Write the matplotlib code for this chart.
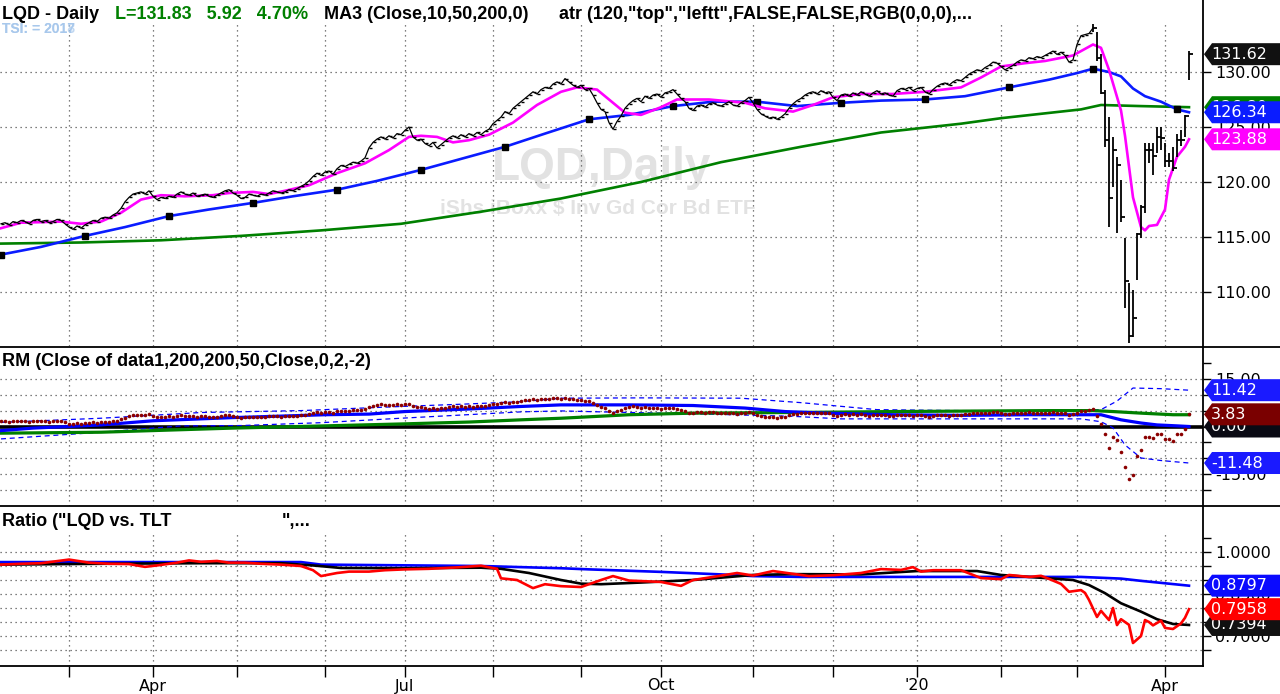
import numpy as np
import matplotlib.pyplot as plt
from matplotlib.patches import Polygon
from matplotlib.lines import Line2D
from matplotlib.transforms import blended_transform_factory

W, H = 1280, 694

# ---------------- price panel data (daily bars, Feb 5 2019 .. Apr 9 2020) ----------------
close = [
    116.2, 116.3, 116.1, 116.4, 116.3, 116.5, 116.4, 116.2, 116.5, 116.6, 116.4, 116.5, 116.3, 116.4, 116.6, 116.5, 116.2,
    115.9, 115.7, 116.0, 115.8, 116.1, 116.3,
    116.5, 116.4, 116.7, 116.8, 116.7, 117.0, 117.2,
    117.6, 118.2, 118.6, 118.9, 119.0, 119.1, 118.9, 119.2,
    118.7, 118.4, 118.6, 118.5, 118.7, 118.6,
    118.9, 119.1, 118.9, 118.8, 119.0, 118.7, 118.8, 118.9, 118.7, 118.6, 118.8, 119.0, 119.2, 119.3, 119.0, 118.8, 118.5,
    118.6, 118.9, 118.8, 118.7, 118.9, 118.8, 119.0, 119.2, 119.1, 119.0, 119.1, 119.3, 119.2, 119.4, 119.6, 119.8, 120.1,
    120.5, 120.8, 120.6, 120.9, 121.0, 120.7, 121.2,
    121.5, 121.4, 121.6, 121.8, 121.7, 121.9, 122.2,
    123.1, 123.6, 123.9, 124.1,
    123.9, 124.2, 124.0, 124.4, 124.3, 124.7, 125.0,
    124.1, 123.8, 123.9, 123.5, 123.3, 123.6, 123.1, 123.4, 123.7,
    124.0, 124.2, 124.0, 124.3, 124.1, 124.4, 124.2, 124.5, 124.3, 124.6, 124.8,
    125.3, 125.6, 125.9, 126.4, 126.2, 126.7, 127.0, 127.3, 127.6,
    127.9, 128.2, 128.0, 128.4, 128.6, 128.5, 128.9, 129.1, 128.9, 129.4,
    129.1, 128.8, 128.6, 128.8, 128.4, 128.5, 127.9,
    127.2, 126.6, 126.4, 125.4, 124.8,
    125.5, 126.0, 126.7, 127.1, 127.4,
    127.6, 127.3, 127.8, 127.6, 127.9, 128.0, 127.7, 128.1, 128.2, 128.4,
    128.0, 127.6, 127.3, 126.7, 126.5, 126.9,
    127.0, 126.8, 127.1, 127.2, 127.0, 126.9, 127.1, 127.3, 127.0, 126.9, 127.2, 127.4,
    127.7,
    127.2, 126.6, 126.2, 126.0, 125.8, 125.9, 125.7, 125.9, 126.2,
    126.7, 127.1, 127.4, 127.6, 127.9, 128.1, 128.2, 128.0, 128.3, 128.1, 128.2,
    127.7, 127.4, 127.9, 128.0, 127.8, 128.1, 127.9, 128.2, 128.0, 127.8, 128.1, 128.3, 128.0, 128.1, 127.9,
    127.8, 128.3, 128.5, 128.4, 128.6, 128.3, 128.5, 128.6, 128.2, 128.0, 128.4, 128.7,
    128.9, 129.0, 128.8, 129.1, 129.3, 129.2, 129.5,
    129.8, 130.0, 130.2, 130.1, 130.4, 130.6, 130.9, 130.8,
    130.5, 130.2, 130.4, 130.6,
    130.9, 131.1, 131.0, 131.3, 131.2, 131.4, 131.3, 131.5,
    131.7, 131.9, 131.6, 131.8, 131.5, 130.9, 131.1,
    132.5, 133.3, 133.4, 133.5,
    134.0, 131.3, 128.1, 123.8, 118.5, 122.9, 121.5, 116.8, 111.0, 106.0, 107.6, 115.3, 117.7,
    122.9, 122.9, 122.4, 124.1, 124.0, 121.9, 121.9, 121.3, 123.8, 123.8, 126.0, 131.62,
]
# high / low of the wide bars from Mar 6 2020 on
crash_start = 273
crash_hi = [134.4, 133.6, 131.6, 128.4, 125.9, 124.1, 122.3, 120.2, 114.9, 110.8, 110.2, 115.4, 117.9,
            123.5, 123.5, 123.5, 125.0, 125.0, 123.5, 122.6, 123.2, 124.4, 124.7, 126.1, 131.9]
crash_lo = [133.6, 131.0, 128.0, 123.2, 115.9, 119.5, 115.4, 116.4, 108.5, 105.4, 105.9, 111.1, 114.9,
            117.2, 121.7, 120.6, 122.6, 122.9, 121.4, 121.4, 121.0, 122.3, 123.3, 124.1, 129.3]

ma10_idx = [0, 5, 15, 20, 25, 30, 35, 40, 46, 53, 57, 63, 67, 71, 77, 84, 91, 97, 102, 105, 109, 113, 117, 122,
            128, 134, 140, 144, 149, 153, 156, 160, 165, 169, 177, 186, 191, 198, 203, 208, 215, 223, 231, 240,
            245, 250, 256, 261, 268, 273, 275, 277, 280, 281, 282, 283, 285, 286, 287, 289, 291, 292, 294, 296, 297]
ma10_val = [115.8, 116.3, 116.4, 116.2, 116.4, 117.2, 118.4, 118.8, 118.7, 118.8, 119.0, 119.1, 118.9, 119.2,
            119.7, 120.8, 121.7, 122.9, 124.1, 124.2, 124.1, 123.6, 123.8, 124.3, 125.4, 127.0, 128.2, 128.6,
            128.4, 127.2, 126.3, 126.1, 126.8, 127.5, 127.5, 127.2, 126.7, 126.4, 127.0, 127.7, 128.0, 128.0,
            128.2, 128.6, 129.5, 130.5, 130.8, 131.0, 131.5, 132.5, 132.2, 130.2, 126.5, 124.2, 121.4, 118.6,
            115.9, 115.6, 116.0, 116.1, 117.5, 120.2, 122.3, 123.2, 123.88]

ma50_idx = [0, 10, 21, 31, 42, 52, 63, 73, 84, 94, 105, 115, 126, 136, 147, 157, 168, 178, 189, 199, 210, 220,
            231, 241, 252, 262, 269, 273, 277, 280, 283, 286, 290, 294, 297]
ma50_val = [113.4, 114.1, 115.1, 115.9, 116.9, 117.5, 118.1, 118.7, 119.3, 120.1, 121.1, 122.1, 123.2, 124.4,
            125.7, 126.1, 126.9, 127.3, 127.3, 126.9, 127.2, 127.4, 127.5, 127.8, 128.6, 129.3, 129.9, 130.3,
            130.0, 129.6, 128.5, 127.8, 127.3, 126.6, 126.34]

ma200_idx = [0, 20, 40, 60, 80, 100, 120, 140, 160, 180, 200, 220, 240, 250, 260, 270, 275, 285, 297]
ma200_val = [114.4, 114.5, 114.7, 115.1, 115.6, 116.2, 117.3, 118.5, 120.0, 121.8, 123.2, 124.5, 125.3, 125.8,
             126.2, 126.6, 127.0, 126.9, 126.8]

# ---------------- RM panel data ----------------
rm_dots = [
    1.6, 1.7, 1.5, 1.8, 1.6, 1.8, 1.7, 1.5, 1.7, 1.8, 1.6, 1.7, 1.5, 1.6, 1.8, 1.7, 1.4,
    0.9, 0.7, 1.0, 0.8, 1.0, 1.2,
    1.3, 1.2, 1.4, 1.5, 1.4, 1.6, 1.8,
    2.3, 2.8, 3.2, 3.5, 3.6, 3.7, 3.5, 3.8,
    3.2, 2.9, 3.1, 3.0, 3.2, 3.1,
    3.3, 3.5, 3.3, 3.2, 3.4, 3.1, 3.2, 3.3, 3.1, 3.0, 3.1, 3.3, 3.5, 3.6, 3.3, 3.1, 2.8,
    2.9, 3.1, 3.0, 2.9, 3.1, 3.0, 3.2, 3.4, 3.2, 3.1, 3.2, 3.3, 3.2, 3.4, 3.5, 3.7, 3.9,
    4.3, 4.5, 4.3, 4.6, 4.6, 4.3, 4.8,
    5.0, 4.9, 5.0, 5.2, 5.1, 5.2, 5.4,
    6.2, 6.6, 6.8, 7.0,
    6.7, 6.9, 6.7, 7.0, 6.9, 7.1, 7.2,
    6.4, 6.1, 6.2, 5.8, 5.6, 5.9, 5.4, 5.7, 5.9,
    6.2, 6.3, 6.1, 6.4, 6.2, 6.4, 6.2, 6.5, 6.3, 6.6, 6.7,
    7.0, 7.2, 7.3, 7.6, 7.4, 7.7, 7.8, 8.0, 8.2,
    8.3, 8.5, 8.3, 8.6, 8.7, 8.6, 8.9, 9.0, 8.8, 9.1,
    8.8, 8.5, 8.2, 8.3, 7.9, 7.9, 7.4,
    6.8, 6.2, 5.9, 5.0, 4.4,
    4.9, 5.3, 5.8, 6.1, 6.3,
    6.2, 5.9, 6.0, 5.8, 5.9, 5.9, 5.6, 5.8, 5.8, 5.9,
    5.6, 5.2, 4.9, 4.4, 4.2, 4.5,
    4.5, 4.3, 4.5, 4.5, 4.3, 4.2, 4.3, 4.4, 4.1, 4.0, 4.2, 4.3,
    4.6,
    4.1, 3.6, 3.2, 3.0, 2.9, 2.9, 2.8, 2.9, 3.1,
    3.5, 3.8, 4.0, 4.1, 4.3, 4.4, 4.4, 4.2, 4.4, 4.2, 4.2,
    3.7, 3.4, 3.7, 3.8, 3.6, 3.8, 3.6, 3.8, 3.6, 3.4, 3.6, 3.7, 3.5, 3.5, 3.3,
    3.2, 3.6, 3.7, 3.6, 3.7, 3.4, 3.5, 3.6, 3.2, 2.9, 3.3, 3.5,
    3.6, 3.6, 3.4, 3.6, 3.7, 3.6, 3.8,
    4.0, 4.1, 4.2, 4.1, 4.3, 4.4, 4.6, 4.5,
    4.2, 3.9, 4.0, 4.1,
    4.3, 4.4, 4.3, 4.5, 4.4, 4.3, 4.2, 4.3,
    4.4, 4.5, 4.2, 4.3, 4.1, 3.6, 3.8,
    4.4, 5.0, 5.0, 5.1,
    5.5, 3.4, 0.9, -2.5, -6.7, -3.2, -4.3, -8.0, -12.6, -16.5, -15.3, -9.2, -7.3,
    -3.2, -3.2, -3.6, -2.3, -2.4, -4.0, -4.0, -4.5, -2.5, -2.5, -0.8, 3.83,
]
rm_avg_idx = [0, 8, 17, 25, 38, 58, 81, 92, 101, 117, 130, 140, 157, 173, 186, 196, 206, 223, 240, 257, 275,
              280, 285, 289, 294, 297]
rm_avg_val = [-1.3, -0.5, 0.0, 0.5, 1.8, 2.8, 3.7, 3.9, 4.7, 5.5, 6.3, 6.8, 6.8, 6.6, 5.8, 4.7, 4.2, 3.7, 3.5,
              3.7, 3.7, 2.1, 1.1, 0.5, 0.2, 0.0]
rm_long_idx = [0, 25, 58, 81, 100, 117, 130, 140, 157, 173, 198, 223, 248, 262, 273, 278, 285, 293, 297]
rm_long_val = [-2.1, -1.8, -0.5, 0.2, 0.8, 1.4, 2.1, 2.6, 3.7, 4.2, 4.4, 4.7, 4.9, 5.0, 5.0, 4.7, 4.2, 3.7, 3.7]
rm_up_idx = [0, 25, 50, 75, 100, 115, 130, 140, 160, 185, 200, 219, 240, 260, 275, 279, 283, 290, 297]
rm_up_val = [1.3, 2.6, 4.4, 5.0, 6.3, 7.0, 7.8, 8.9, 9.0, 8.9, 7.5, 5.3, 5.0, 5.0, 5.3, 8.0, 12.1, 11.9, 11.42]
rm_dn_idx = [0, 25, 45, 60, 80, 100, 115, 130, 140, 150, 180, 198, 210, 270, 275, 278, 281, 285, 290, 297]
rm_dn_val = [-3.9, -1.8, 0.2, 0.3, 1.2, 2.6, 3.6, 4.6, 4.9, 4.6, 3.8, 3.2, 2.4, 2.4, 1.5, -0.4, -5.8, -9.9,
             -10.7, -11.48]
rm_zero = 0.0

# ---------------- Ratio panel data ----------------
ratio_idx = [0, 5, 10, 17, 22, 27, 32, 36, 39, 44, 47, 50, 54, 57, 61, 65, 70, 75, 78, 80, 84, 87, 92, 96, 101,
             107, 114, 120, 124, 125, 129, 133, 136, 140, 145, 150, 153, 157, 162, 165, 170, 173, 178, 184, 188,
             193, 198, 202, 208, 215, 220, 225, 228, 230, 233, 240, 245, 250, 252, 257, 260, 262, 265, 267, 270,
             271, 272, 274, 275, 277, 278, 279, 280, 282, 283, 285, 286, 287, 288, 290, 291, 293, 295, 296, 297]
ratio_val = [0.955, 0.958, 0.960, 0.973, 0.962, 0.958, 0.957, 0.947, 0.952, 0.962, 0.970, 0.965, 0.968, 0.962,
             0.962, 0.958, 0.955, 0.950, 0.935, 0.914, 0.925, 0.930, 0.930, 0.935, 0.938, 0.940, 0.945, 0.951,
             0.940, 0.906, 0.900, 0.871, 0.885, 0.878, 0.875, 0.900, 0.914, 0.898, 0.895, 0.893, 0.879, 0.900,
             0.911, 0.925, 0.916, 0.932, 0.922, 0.914, 0.917, 0.925, 0.939, 0.936, 0.946, 0.930, 0.935, 0.935,
             0.907, 0.903, 0.918, 0.911, 0.915, 0.904, 0.886, 0.858, 0.864, 0.854, 0.829, 0.768, 0.790, 0.757,
             0.800, 0.739, 0.760, 0.740, 0.675, 0.700, 0.757, 0.750, 0.738, 0.755, 0.729, 0.725, 0.745, 0.765,
             0.7958]
ratio_ma_idx = [0, 25, 50, 70, 78, 85, 100, 120, 125, 132, 140, 145, 150, 160, 173, 188, 198, 215, 229, 244,
                250, 260, 268, 272, 276, 280, 285, 289, 293, 297]
ratio_ma_val = [0.955, 0.958, 0.960, 0.960, 0.952, 0.943, 0.942, 0.944, 0.940, 0.925, 0.900, 0.887, 0.885,
                0.891, 0.900, 0.918, 0.921, 0.920, 0.932, 0.932, 0.918, 0.908, 0.900, 0.882, 0.853, 0.817,
                0.787, 0.760, 0.743, 0.7394]
ratio_long_idx = [0, 75, 80, 120, 125, 140, 147, 165, 180, 188, 200, 270, 280, 285, 297]
ratio_long_val = [0.964, 0.964, 0.955, 0.950, 0.948, 0.942, 0.938, 0.929, 0.920, 0.914, 0.911, 0.911, 0.905,
                  0.897, 0.8797]

month_ticks = [17, 38, 59, 81, 101, 123, 145, 165, 188, 208, 229, 250, 269, 291]
month_labels = ['', 'Apr', '', '', 'Jul', '', '', 'Oct', '', '', "'20", '', '', 'Apr']

# ---------------- figure ----------------
fig = plt.figure(figsize=(W / 100, H / 100), dpi=100)


def fx(px):
    return px / W


def fy(py):
    return 1 - py / H


ax1 = fig.add_axes([0, fy(346), fx(1203), 346 / H])
ax2 = fig.add_axes([0, fy(506), fx(1203), (506 - 347) / H])
ax3 = fig.add_axes([0, fy(666), fx(1203), (666 - 506) / H])

XL = (-0.25, 300.5)
lims = {ax1: (105.09, 136.545), ax2: (-25, 25), ax3: (0.5929, 1.1643)}
grid_top = {ax1: 134.45, ax2: 17.2, ax3: 1.071}
hgrid = {ax1: [110, 115, 120, 125, 130],
         ax2: [-20, -15, -10, -5, 5, 10, 15],
         ax3: [0.65, 0.70, 0.75, 0.80, 0.85, 0.90, 0.95, 1.00]}
dot = (0, (1, 3))
for ax in (ax1, ax2, ax3):
    ax.hlines(hgrid[ax], XL[0], XL[1], colors='#555555', linestyles=dot, lw=0.9, zorder=1)
    ax.vlines(month_ticks, lims[ax][0], grid_top[ax], colors='#555555', linestyles=dot, lw=0.9, zorder=1)

idx = np.arange(len(close))

# price panel
ax1.text(fx(602), fy(180), 'LQD,Daily', transform=fig.transFigure, ha='center', va='baseline',
         fontsize=33, fontweight='bold', family='Liberation Sans', color='#e2e2e2', zorder=0)
ax1.text(fx(598), fy(214), 'iShs iBoxx $ Inv Gd Cor Bd ETF', transform=fig.transFigure, ha='center',
         va='baseline', fontsize=15, fontweight='bold', family='Liberation Sans', color='#e2e2e2', zorder=0)
ax1.plot(ma200_idx, ma200_val, color='#008000', lw=1.9, zorder=3)
mk = [j for j, k in enumerate(ma50_idx) if k % 21 == 0]
ax1.plot(ma50_idx, ma50_val, color='#0a1cff', lw=1.9, marker='s', ms=3.8, mfc='black', mec='black',
         markevery=mk, zorder=3)
ax1.plot(ma10_idx, ma10_val, color='#ff00ff', lw=1.9, zorder=3)
ax1.plot(idx[:crash_start + 1], close[:crash_start + 1], color='black', lw=0.9, zorder=4)
ax1.plot(idx[:crash_start], close[:crash_start], ls='none', marker=1, ms=2.2, color='black', zorder=4)
ax1.vlines(idx[crash_start:], crash_lo, crash_hi, colors='black', lw=1.3, zorder=4)
ax1.plot(idx[crash_start:], close[crash_start:], ls='none', marker=1, ms=3, mew=1.3, color='black', zorder=4)

# RM panel
ax2.axhline(rm_zero, color='black', lw=2.6, zorder=3)
ax2.plot(rm_up_idx, rm_up_val, color='#0000ff', lw=0.9, dashes=(4, 3), zorder=3)
ax2.plot(rm_dn_idx, rm_dn_val, color='#0000ff', lw=0.9, dashes=(4, 3), zorder=3)
ax2.plot(rm_long_idx, rm_long_val, color='#008000', lw=2.3, zorder=3)
ax2.plot(rm_avg_idx, rm_avg_val, color='#0000ff', lw=2.3, zorder=3)
ax2.plot(idx, rm_dots, ls='none', marker='o', ms=2.6, mew=0, color='#8b0000', zorder=4)

# Ratio panel
ax3.plot(ratio_long_idx, ratio_long_val, color='#0000ff', lw=1.9, zorder=3)
ax3.plot(ratio_ma_idx, ratio_ma_val, color='black', lw=1.9, zorder=3)
ax3.plot(ratio_idx, ratio_val, color='#ff0000', lw=1.9, zorder=4)

for ax in (ax1, ax2, ax3):
    ax.set_xlim(*XL)
    ax.set_ylim(*lims[ax])
    for s in ('left', 'top', 'bottom'):
        ax.spines[s].set_visible(False)
    ax.spines['right'].set_linewidth(1.3)
    ax.yaxis.tick_right()
    ax.tick_params(axis='y', which='both', direction='out', length=6, width=1, pad=3, labelsize=11.5)
    ax.tick_params(axis='x', which='both', bottom=False, labelbottom=False)

ax1.set_yticks([110, 115, 120, 125, 130])
ax1.set_yticklabels([f'{v:.2f}' for v in [110, 115, 120, 125, 130]])
ax2.set_yticks([-15, 0, 15])
ax2.set_yticklabels([f'{v:.2f}' for v in [-15, 0, 15]])
ax2.set_yticks([-20, -10, -5, 5, 10, 20], minor=True)
ax3.set_yticks([0.70, 0.85, 1.00])
ax3.set_yticklabels([f'{v:.4f}' for v in [0.70, 0.85, 1.00]])
ax3.set_yticks([0.65, 0.75, 0.80, 0.90, 0.95, 1.05], minor=True)

ax3.spines['bottom'].set_visible(True)
ax3.spines['bottom'].set_linewidth(1.3)
ax3.set_xticks(month_ticks)
ax3.set_xticklabels(month_labels)
ax3.tick_params(axis='x', bottom=True, labelbottom=True, length=8, width=1, pad=1, labelsize=11.5)

# panel separators
for yy in (346.5, 506):
    fig.add_artist(Line2D([0, 1], [fy(yy), fy(yy)], color='black', lw=1.3))


# value tags on the right scale
tag_z = [10]


def tag(ax, v, txt, fc, half):
    tr = blended_transform_factory(fig.transFigure, ax.transData)
    x0, x1 = fx(1204), fx(1212)
    poly = Polygon([(x0, v), (x1, v + half), (1.0, v + half), (1.0, v - half), (x1, v - half)],
                   closed=True, transform=tr, facecolor=fc, edgecolor='none', clip_on=False, zorder=tag_z[0])
    ax.add_patch(poly)
    ax.text(fx(1211), v, txt, transform=tr, color='white', fontsize=11.5, ha='left', va='center',
            clip_on=False, zorder=tag_z[0] + 1)
    tag_z[0] += 2


h1, h2, h3 = 11 / 11.0, 11 / 3.18, 11 / 280.0
tag(ax1, close[-1], f'{close[-1]:.2f}', '#111111', h1)
tag(ax1, ma200_val[-1], f'{ma200_val[-1]:.2f}', '#008000', h1)
tag(ax1, ma50_val[-1], f'{ma50_val[-1]:.2f}', '#0a1cff', h1)
tag(ax1, ma10_val[-1], f'{ma10_val[-1]:.2f}', '#ff00ff', h1)

tag(ax2, rm_up_val[-1], f'{rm_up_val[-1]:.2f}', '#1a1aff', h2)
tag(ax2, rm_zero, f'{rm_zero:.2f}', '#0a0a14', h2)
tag(ax2, rm_dots[-1], f'{rm_dots[-1]:.2f}', '#7a0000', h2)
tag(ax2, rm_dn_val[-1], f'{rm_dn_val[-1]:.2f}', '#1a1aff', h2)

tag(ax3, ratio_long_val[-1], f'{ratio_long_val[-1]:.4f}', '#0a0aff', h3)
tag(ax3, ratio_ma_val[-1], f'{ratio_ma_val[-1]:.4f}', '#111111', h3)
tag(ax3, ratio_val[-1], f'{ratio_val[-1]:.4f}', '#ff0000', h3)

# panel titles
hdr = dict(fontsize=13, fontweight='bold', family='Liberation Sans', va='baseline')
fig.text(fx(2), fy(19), 'LQD - Daily', color='black', **hdr)
fig.text(fx(115), fy(19), 'L=131.83   5.92   4.70%', color='#008000', **hdr)
fig.text(fx(324), fy(19), 'MA3 (Close,10,50,200,0)', color='black', **hdr)
fig.text(fx(559), fy(19), 'atr (120,"top","leftt",FALSE,FALSE,RGB(0,0,0),...', color='black', **hdr)
tsi = dict(fontsize=10, fontweight='bold', family='Liberation Sans', va='baseline', color='#a8c8ec')
fig.text(fx(2), fy(33), 'TSI: = 2017', **tsi)
fig.text(fx(2), fy(33), 'TSI: = 2018', alpha=0.7, **tsi)
fig.text(fx(2), fy(366), 'RM (Close of data1,200,200,50,Close,0,2,-2)', color='black', **hdr)
fig.text(fx(2), fy(526), 'Ratio ("LQD vs. TLT', color='black', **hdr)
fig.text(fx(282), fy(526), '",...', color='black', **hdr)

fig.savefig('out.png', dpi=100)
